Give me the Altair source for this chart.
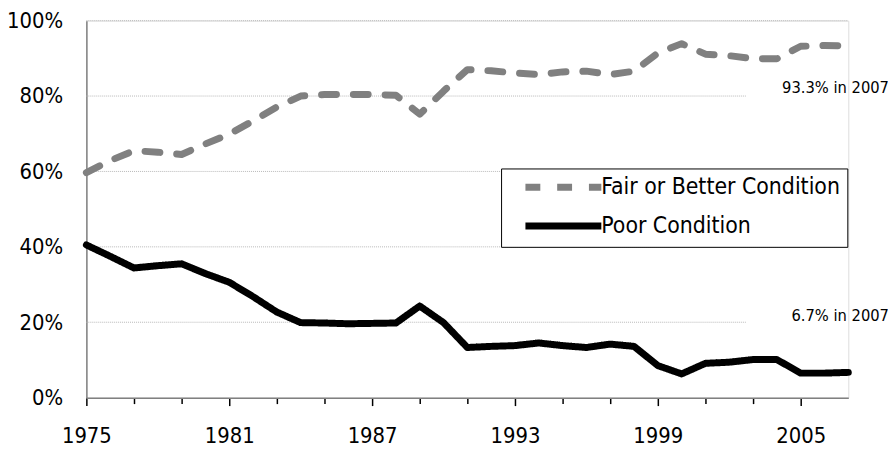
import altair as alt
import pandas as pd

years = list(range(1975, 2008))
fair_or_better = [59.7, 62.9, 65.5, 65.1, 64.5, 67.3, 69.9, 73.4, 77.1, 80.0, 80.4,
                  80.4, 80.4, 80.2, 75.2, 81.3, 87.0, 86.7, 86.1, 85.7, 86.4, 86.6,
                  85.7, 86.6, 91.4, 93.9, 91.1, 90.7, 89.9, 89.9, 93.2, 93.4, 93.3]
poor = [40.5, 37.5, 34.4, 35.0, 35.5, 32.9, 30.6, 26.8, 22.7, 19.9, 19.8,
        19.6, 19.7, 19.8, 24.3, 19.9, 13.3, 13.6, 13.8, 14.5, 13.8, 13.3,
        14.2, 13.6, 8.5, 6.3, 9.1, 9.4, 10.1, 10.1, 6.5, 6.5, 6.7]
series_names = ["Fair or Better Condition", "Poor Condition"]
series_colors = ["#808080", "#000000"]
grid_levels = [20, 40, 60, 80, 100]
grid_end_year = [2002.7, 2007, 2007, 2002.7, 2007]
tick_years = list(range(1975, 2007))
y_ticks = [0, 0.2, 0.4, 0.6, 0.8, 1.0]
annotation_text = ["93.3% in 2007", "6.7% in 2007"]
annotation_value = [93.3, 6.7]

FONT = "'Liberation Sans Narrow', 'Arial Narrow', 'DejaVu Sans Condensed', 'Liberation Sans', sans-serif"

rows = []
for name, vals in zip(series_names, [fair_or_better, poor]):
    for yr, v in zip(years, vals):
        rows.append({"series": name, "year": yr, "value": v / 100})
df = pd.DataFrame(rows)

grid_df = pd.DataFrame({
    "level": [g / 100 for g in grid_levels],
    "start": [years[0]] * len(grid_levels),
    "end": grid_end_year,
})

ann_df = pd.DataFrame({
    "year": [years[-1]] * 2,
    "value": [v / 100 for v in annotation_value],
    "text": annotation_text,
})

xscale = alt.Scale(domain=[years[0], years[-1]], nice=False, zero=False)
yscale = alt.Scale(domain=[0, 1], nice=False)

major_test = "(datum.value - 1975) % 6 == 0"

grid = alt.Chart(grid_df).mark_rule(color="#b8b8b8", strokeWidth=1, strokeDash=[1, 1]).encode(
    x=alt.X("start:Q", scale=xscale),
    x2="end:Q",
    y=alt.Y("level:Q", scale=yscale),
)

lines = alt.Chart(df).mark_line(strokeWidth=7, strokeCap="round", strokeJoin="round").encode(
    x=alt.X("year:Q", scale=xscale, title=None,
            axis=alt.Axis(values=tick_years,
                          labelExpr="(datum.value - 1975) % 6 == 0 ? datum.value : ''",
                          format="d",
                          tickSize={"condition": {"test": major_test, "value": 8}, "value": 6},
                          tickColor="#000000", tickWidth=1.5,
                          domainColor="#808080", domainWidth=1.5,
                          labelFont=FONT, labelFontSize=22, labelColor="#000000",
                          labelPadding=20, labelFlush=False, grid=False, labelOverlap=False)),
    y=alt.Y("value:Q", scale=yscale, title=None,
            axis=alt.Axis(values=y_ticks, format=".0%", tickSize=0,
                          domainColor="#808080", domainWidth=1.5,
                          labelFont=FONT, labelFontSize=22, labelColor="#000000",
                          labelPadding=24, labelFlush=False, grid=False)),
    color=alt.Color("series:N", scale=alt.Scale(domain=series_names, range=series_colors),
                    legend=alt.Legend(title=None, orient="none", legendX=418, legendY=149,
                                      fillColor="#ffffff", strokeColor="#000000",
                                      padding=6.5, symbolType="M-4.25,0H4.25", symbolSize=324,
                                      symbolStrokeWidth=7, symbolOffset=43.8,
                                      labelFont=FONT, labelFontSize=23, labelColor="#000000",
                                      labelOffset=25.7, rowPadding=10, labelLimit=400)),
    strokeDash=alt.StrokeDash("series:N",
                              scale=alt.Scale(domain=series_names, range=[[15, 17], [1, 0]]),
                              legend=None),
    order="year:Q",
)

ann_top = alt.Chart(ann_df.iloc[[0]]).mark_text(
    align="right", baseline="middle", dx=41, dy=42, font=FONT, fontSize=16.5, color="#000000"
).encode(x=alt.X("year:Q", scale=xscale), y=alt.Y("value:Q", scale=yscale), text="text:N")

ann_bot = alt.Chart(ann_df.iloc[[1]]).mark_text(
    align="right", baseline="middle", dx=41, dy=-57, font=FONT, fontSize=16.5, color="#000000"
).encode(x=alt.X("year:Q", scale=xscale), y=alt.Y("value:Q", scale=yscale), text="text:N")

chart = alt.layer(grid, lines, ann_top, ann_bot).properties(
    width=768, height=380,
    autosize=alt.AutoSizeParams(type="none"),
    padding={"left": 79, "top": 11, "right": 40, "bottom": 48},
).configure_view(stroke=None).configure(background="#ffffff")

chart.save("out.html", embed_options={"renderer": "svg", "actions": False})
